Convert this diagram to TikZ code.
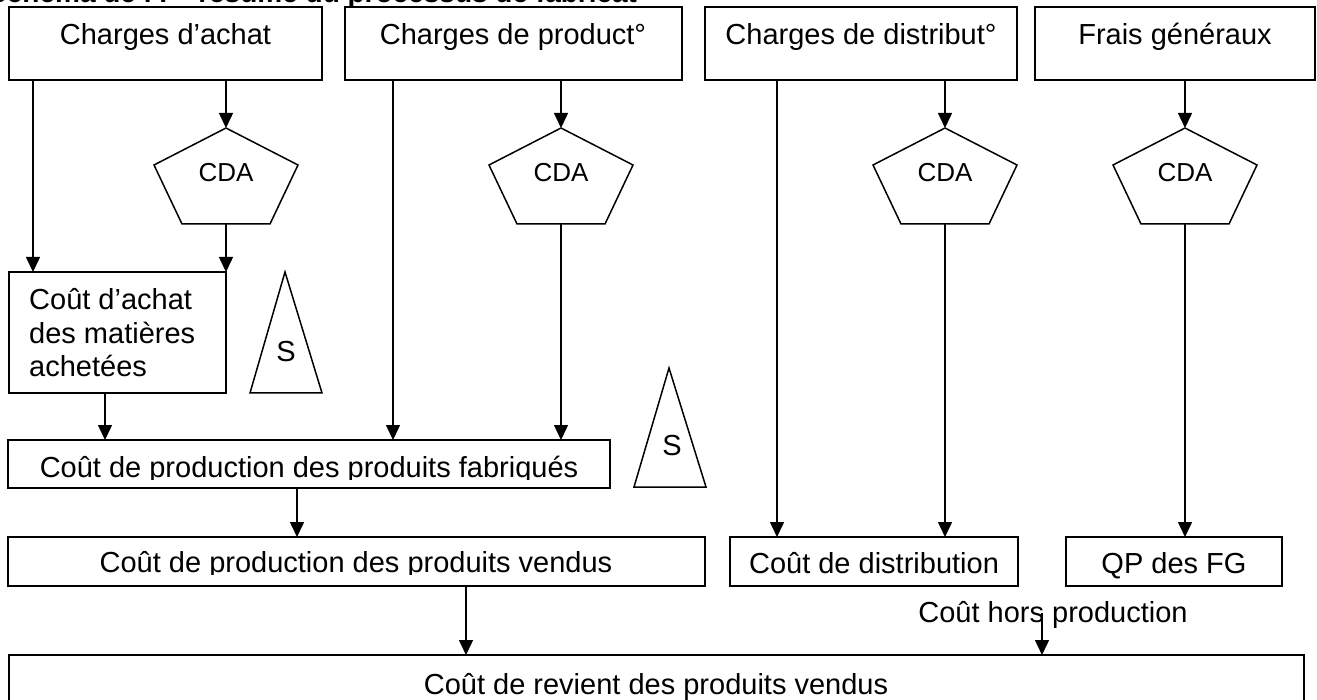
\documentclass[tikz,border=0pt]{standalone}
\usepackage{fontspec}
\setmainfont{Liberation Sans}
\usetikzlibrary{arrows.meta}
\newcommand\mybox[5]{%
  \node[box, minimum width={(#4-#2)*1pt}, minimum height={(#5-#3)*1pt}] (#1) at ({(#2+#4)/2},{(#3+#5)/2}) {};}
\newcommand\mypent[2]{%
  \coordinate (#1t) at (#2,128);
  \coordinate (#1b) at (#2,224);
  \draw[shp] (#1t) -- ({#2+72},165) -- ({#2+44},224) -- ({#2-44},224) -- ({#2-72},165) -- cycle;
  \node[cda] (#1c) at (#2,182) {CDA};}
\begin{document}
\begin{tikzpicture}[x=1pt,y=-1pt,
  box/.style={draw, line width=1.5pt, inner sep=0pt, outer sep=0pt},
  lbl/.style={font=\fontsize{29}{34}\selectfont, anchor=base, inner sep=0pt},
  cda/.style={font=\fontsize{26}{30}\selectfont, anchor=base, inner sep=0pt},
  shp/.style={line width=1.5pt, line join=miter},
  arr/.style={line width=1.5pt, -{Triangle[length=15pt,width=14pt]}}]
\useasboundingbox (0,0) rectangle (1317,700);
\clip (0,0) rectangle (1317,700);
\fill[white] (0,0) rectangle (1317,700);

% title (cut off at the top)
\node[font=\fontsize{28}{32}\selectfont\bfseries, anchor=base west, inner sep=0pt] (title) at (-12,3) {Schéma de l’I – résumé du processus de fabricat°};

% boxes
\mybox{A}{9}{7}{322}{80}
\mybox{B}{345}{7}{682}{80}
\mybox{C}{705}{7}{1017}{80}
\mybox{D}{1035}{7}{1315}{80}
\mybox{Ach}{9}{272}{226}{393}
\mybox{Fab}{8}{440}{610}{488}
\mybox{Ven}{8}{537}{705}{586}
\mybox{Dis}{730}{537}{1018}{586}
\mybox{QP}{1066}{537}{1282}{586}
\mybox{Rev}{9}{655}{1304}{720}

% labels
\node[lbl] (tA) at (165.5,45) {Charges d’achat};
\node[lbl] (tB) at (513,45) {Charges de product°};
\node[lbl] (tC) at (861,45) {Charges de distribut°};
\node[lbl] (tD) at (1175,45) {Frais généraux};
\node[lbl, anchor=base west] (tAch1) at (29,310) {Coût d’achat};
\node[lbl, anchor=base west] (tAch2) at (29,343.5) {des matières};
\node[lbl, anchor=base west] (tAch3) at (29,377) {achetées};
\begin{scope}
  \clip (0,0) rectangle (1317,479);
  \node[lbl] (tFab) at (309,477) {Coût de production des produits fabriqués};
\end{scope}
\begin{scope}
  \clip (0,0) rectangle (1317,574);
  \node[lbl] (tVen) at (356,572) {Coût de production des produits vendus};
\end{scope}
\node[lbl] (tDis) at (874,573) {Coût de distribution};
\node[lbl] (tQP) at (1174,573) {QP des FG};
\node[lbl] (tRev) at (656,694) {Coût de revient des produits vendus};
\node[lbl] (tHors) at (1053,622) {Coût hors production};

% pentagons
\mypent{p1}{226}
\mypent{p2}{561}
\mypent{p3}{945}
\mypent{p4}{1185}

% stock triangles
\draw[shp] (285,272) coordinate (s1t) -- (322,393) -- (250,393) -- cycle;
\node[lbl] (tS1) at (286,362) {S};
\draw[shp] (669,368) coordinate (s2t) -- (706,487) -- (634,487) -- cycle;
\node[lbl] (tS2) at (672,455) {S};

% column coordinates
\coordinate (x1) at (33,0);
\coordinate (x2) at (105,0);
\coordinate (x3) at (393,0);
\coordinate (x4) at (297,0);
\coordinate (x5) at (777,0);
\coordinate (x6) at (466,0);
\coordinate (x7) at (1042,613);

% connectors
\draw[arr] (x1 |- A.south) -- (x1 |- Ach.north);
\draw[arr] (p1t |- A.south) -- (p1t);
\draw[arr] (p1b) -- (p1b |- Ach.north);
\draw[arr] (x2 |- Ach.south) -- (x2 |- Fab.north);
\draw[arr] (x3 |- B.south) -- (x3 |- Fab.north);
\draw[arr] (p2t |- B.south) -- (p2t);
\draw[arr] (p2b) -- (p2b |- Fab.north);
\draw[arr] (x5 |- C.south) -- (x5 |- Dis.north);
\draw[arr] (p3t |- C.south) -- (p3t);
\draw[arr] (p3b) -- (p3b |- Dis.north);
\draw[arr] (p4t |- D.south) -- (p4t);
\draw[arr] (p4b) -- (p4b |- QP.north);
\draw[arr] (x4 |- Fab.south) -- (x4 |- Ven.north);
\draw[arr] (x6 |- Ven.south) -- (x6 |- Rev.north);
\draw[arr] (x7) -- (x7 |- Rev.north);
\end{tikzpicture}
\end{document}
